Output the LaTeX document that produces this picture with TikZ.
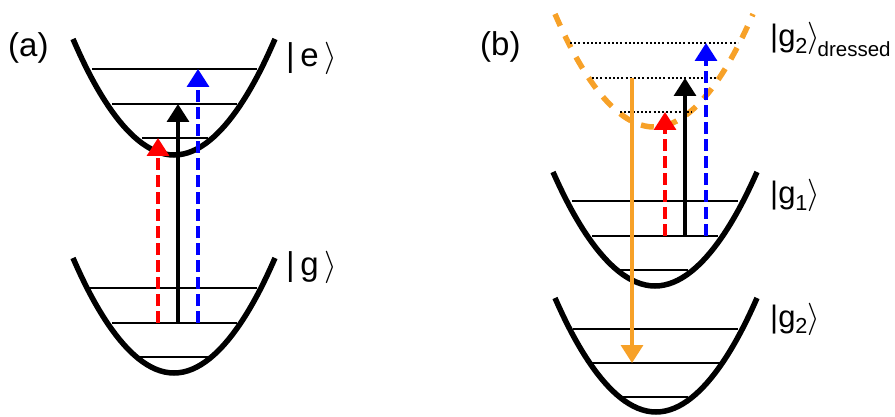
\documentclass[tikz,border=0pt]{standalone}
\usepackage{fontspec}
\setmainfont{Liberation Sans}
\usetikzlibrary{arrows.meta}
\definecolor{orng}{RGB}{247,161,40}
\newcommand{\rket}{\scalebox{1.3}{$\rangle$}}
\begin{document}
\begin{tikzpicture}[x=1pt,y=-1pt,
  well/.style={line width=5.5pt},
  level/.style={line width=2pt},
  dotlevel/.style={line width=1.8pt, dash pattern=on 2pt off 2.2pt},
  tr/.style={line width=3.4pt, -{Triangle[width=22pt,length=18pt]}},
  dsh/.style={dash pattern=on 12pt off 5pt},
  lbl/.style={anchor=base west, inner sep=0pt, font=\fontsize{33}{38}\selectfont},
  lblb/.style={anchor=base west, inner sep=0pt, font=\fontsize{31}{36}\selectfont}]
\useasboundingbox (0,0) rectangle (895,417);

% ---------- panel (a) ----------
\draw[well] (73,39) parabola bend (174,155) (275,39);
\draw[level] (92,69) -- (257,69);
\draw[level] (112,104) -- (237,104);
\draw[level] (142,138) -- (208,138);

\draw[well] (73,258) parabola bend (174,373) (275,258);
\draw[level] (90,288) -- (257,288);
\draw[level] (112,323) -- (237,323);
\draw[level] (140,357) -- (208,357);

\coordinate (aR0) at (158,323); \coordinate (aR1) at (158,138);
\coordinate (aK0) at (178,323); \coordinate (aK1) at (178,104);
\coordinate (aB0) at (198,323); \coordinate (aB1) at (198,69);
\draw[tr,red,dsh] (aR0) -- (aR1);
\draw[tr,black] (aK0) -- (aK1);
\draw[tr,blue,dsh] (aB0) -- (aB1);

\node[lbl] (la) at (8,57) {(a)};
\node[lbl] (ke) at (286,67) {|\,e\,\rket};
\node[lbl] (kg) at (286,276) {|\,g\,\rket};

% ---------- panel (b) ----------
\draw[orng,line width=5.5pt,dash pattern=on 13pt off 11pt] (555,14) parabola bend (654,127) (753,14);
\draw[dotlevel] (570,43) -- (738,43);
\draw[dotlevel] (592,78) -- (718,78);
\draw[dotlevel] (620,112) -- (692,112);

\draw[well] (553,172) parabola bend (655,286) (757,172);
\draw[level] (572,201) -- (738,201);
\draw[level] (592,236) -- (718,236);
\draw[level] (620,270) -- (688,270);

\draw[well] (555,298) parabola bend (656,412) (757,298);
\draw[level] (573,329) -- (738,329);
\draw[level] (592,363) -- (720,363);
\draw[level] (622,397) -- (688,397);

\coordinate (bO0) at (632,78);  \coordinate (bO1) at (632,363);
\coordinate (bR0) at (665,236); \coordinate (bR1) at (665,112);
\coordinate (bK0) at (685,236); \coordinate (bK1) at (685,78);
\coordinate (bB0) at (706,236); \coordinate (bB1) at (706,43);
\draw[tr,orng] (bO0) -- (bO1);
\draw[tr,red,dsh] (bR0) -- (bR1);
\draw[tr,black] (bK0) -- (bK1);
\draw[tr,blue,dsh] (bB0) -- (bB1);

\node[lbl] (lb) at (480,56) {(b)};
\node[lblb] (kgd) at (770,47) {|g\textsubscript{2}\kern-1pt\rket\kern-2pt\raisebox{-10pt}{\fontsize{20.5}{24}\selectfont dressed}};
\node[lblb] (kg1) at (770,204) {|g\textsubscript{1}\kern-1pt\rket};
\node[lblb] (kg2) at (770,327) {|g\textsubscript{2}\kern-1pt\rket};
\end{tikzpicture}
\end{document}
